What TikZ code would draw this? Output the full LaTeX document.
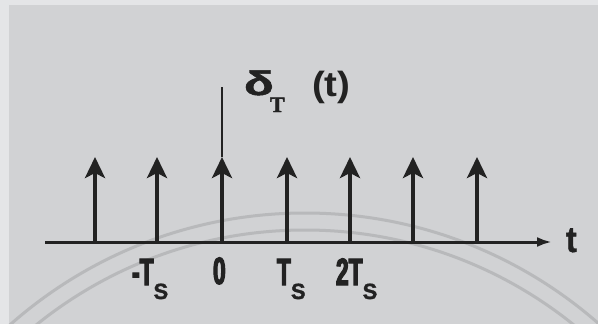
\documentclass[tikz,border=0pt]{standalone}
\usepackage{fontspec}
\usetikzlibrary{arrows.meta}
\newfontfamily\labfont{Liberation Sans Bold}[FakeStretch=0.6, FakeBold=3]
\newfontfamily\subfont{Liberation Sans Bold}
\newfontfamily\subboldfont{Liberation Sans Bold}[FakeBold=1.5]
\newfontfamily\serfont{Liberation Serif Bold}[FakeBold=1.5]
\definecolor{paper}{HTML}{D1D2D4}
\definecolor{paperedge}{HTML}{E4E5E7}
\definecolor{ink}{HTML}{222222}
\definecolor{mark}{HTML}{B8B9BB}
\tikzset{
  impulse/.style={draw=ink, line width=4pt, -{Stealth[length=21pt,width=20pt,inset=5pt]}},
  axisline/.style={draw=ink, line width=3pt, -{Latex[length=15pt,width=10pt]}},
  stem/.style={draw=ink, line width=2.5pt},
  lab/.style={inner sep=0pt, outer sep=0pt, text=ink, anchor=base west},
  watermark/.style={draw=mark, line width=3pt}
}
\newcommand{\bigT}[1]{{\labfont\fontsize{38}{38}\selectfont #1}}
\newcommand{\smallS}{\raisebox{-14pt}{\subboldfont\fontsize{22}{22}\selectfont S}}
\begin{document}
\begin{tikzpicture}[x=1pt,y=-1pt]
\useasboundingbox (0,0) rectangle (598,324);
\fill[paperedge] (0,0) rectangle (598,324);
\fill[paper] (9,5) rectangle (598,324);
% watermark arcs
\draw[watermark] (305,658) circle[radius=445];
\draw[watermark] (305,658) circle[radius=428];
% axis
\coordinate (ax0) at (45,242);
\coordinate (ax1) at (552,242);
\draw[axisline] (ax0) -- (ax1);
\node[lab] (tlab) at (566,252) {\subboldfont\fontsize{36}{36}\selectfont\scalebox{0.9}[1]{t}};
% impulses
\foreach \i/\x in {1/95,2/157,3/222,4/287,5/350,6/413,7/477}{
  \coordinate (b\i) at (\x,242);
  \coordinate (h\i) at (\x,157);
  \draw[impulse] (b\i) -- (h\i);
}
\coordinate (top) at (222,87);
\draw[stem] (h3) -- (top);
% title
\node[lab] (delta) at (244,95) {\subboldfont\fontsize{34}{34}\selectfont\scalebox{1.45}[1]{δ}};
\node[lab] (deltasub) at (270,112) {\serfont\fontsize{22}{22}\selectfont T};
\node[lab] (targ) at (312,96) {\subfont\fontsize{35}{35}\selectfont\scalebox{1.1}[1]{(t)}};
% tick labels
\node[lab] (lm1) at (132,285) {\bigT{-T}\smallS};
\node[lab] (l0) at (213,284) {\bigT{0}};
\node[lab] (l1) at (277,285) {\bigT{T}\smallS};
\node[lab] (l2) at (336,285) {\bigT{2T}\smallS};
\end{tikzpicture}
\end{document}
